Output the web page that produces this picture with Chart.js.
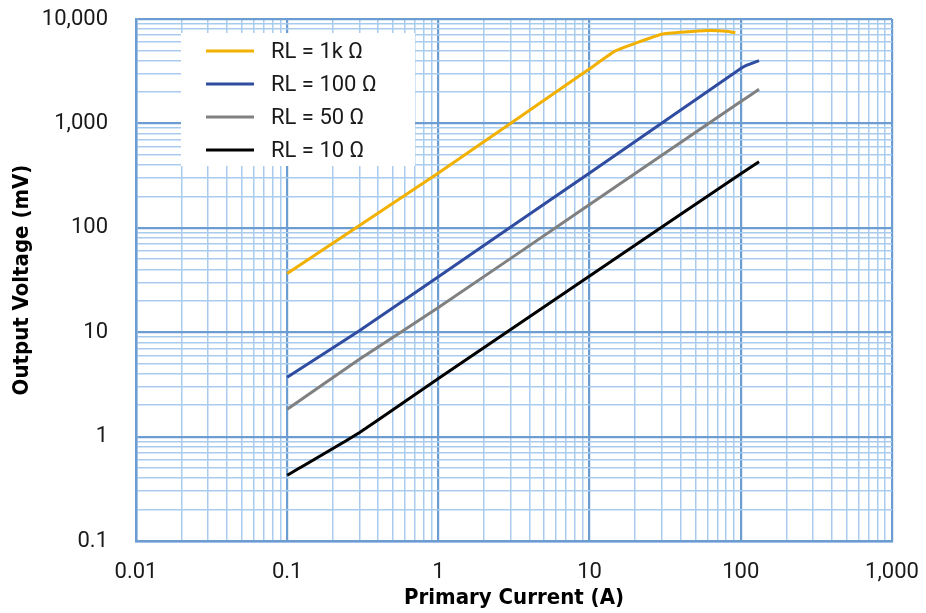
<!DOCTYPE html>
<html>
<head>
<meta charset="utf-8">
<script src="https://cdn.jsdelivr.net/npm/chart.js@4.4.1/dist/chart.umd.min.js"></script>
<style>
  html, body { margin: 0; padding: 0; background: #fff; }
</style>
</head>
<body>
<canvas id="myChart" width="926" height="613"></canvas>
<script>
// data (log-log)
const seriesNames = ["RL = 1k \u03a9", "RL = 100 \u03a9", "RL = 50 \u03a9", "RL = 10 \u03a9"];
const seriesColors = ["#f2b000", "#2f4ca0", "#808080", "#000000"];

const current1k = [0.1, 1, 10, 14.8, 30, 60, 80, 92];
const volts1k = [36.4, 335, 3330, 4940, 7150, 7750, 7650, 7400];

const current100 = [0.1, 0.3, 1, 10, 100, 108, 132];
const volts100 = [3.7, 10.3, 34, 335, 3350, 3580, 4000];

const current50 = [0.1, 0.3, 1, 10, 100, 132];
const volts50 = [1.83, 5.5, 17.2, 167, 1620, 2120];

const current10 = [0.1, 0.3, 1, 10, 100, 132];
const volts10 = [0.426, 1.09, 3.6, 34.5, 330, 430];

const xDecades = [0.01, 0.1, 1, 10, 100, 1000];
const yDecades = [0.1, 1, 10, 100, 1000, 10000];
const minorSteps = [2, 3, 4, 5, 6, 7, 8, 9];

const MAJOR = "#6b9dd3";
const MINOR = "#a8cbee";

const toPoints = (xs, ys) => xs.map((x, i) => ({ x: x, y: ys[i] }));
const isMajor = v => Math.abs(Math.log10(v) - Math.round(Math.log10(v))) < 1e-6;
const fmt = v => Number(v.toPrecision(6)).toLocaleString("en-US", { maximumFractionDigits: 3 });

// full set of gridline values: decades plus 2..9 inside each
function gridValues(decades) {
  const out = [];
  decades.forEach((d, i) => {
    out.push(d);
    if (i < decades.length - 1) minorSteps.forEach(m => out.push(Number((d * m).toPrecision(6))));
  });
  return out;
}

const allSeries = [
  toPoints(current1k, volts1k),
  toPoints(current100, volts100),
  toPoints(current50, volts50),
  toPoints(current10, volts10)
];

// legend box sitting inside the plot, above the grid, below the lines
const insideLegend = {
  id: "insideLegend",
  beforeDatasetsDraw(chart) {
    const { ctx, chartArea } = chart;
    const x0 = chartArea.left + 45, y0 = chartArea.top + 14;
    ctx.save();
    ctx.fillStyle = "#fff";
    ctx.fillRect(x0, y0, 234, 133);
    ctx.font = "22px Roboto";
    ctx.textBaseline = "middle";
    chart.data.datasets.forEach((ds, i) => {
      const y = y0 + 18 + i * 33;
      ctx.strokeStyle = ds.borderColor;
      ctx.lineWidth = 3;
      ctx.beginPath();
      ctx.moveTo(x0 + 25, y);
      ctx.lineTo(x0 + 73, y);
      ctx.stroke();
      ctx.fillStyle = "#1a1a1a";
      ctx.fillText(ds.label, x0 + 90, y + 1);
    });
    ctx.restore();
  }
};

const gridOpts = {
  color: c => (c.tick && isMajor(c.tick.value) ? MAJOR : MINOR),
  lineWidth: c => (c.tick && isMajor(c.tick.value) ? 2.2 : 1.5),
  drawTicks: false
};

const titleFont = { family: "'Liberation Sans Narrow', 'DejaVu Sans Condensed', sans-serif", size: 22, weight: "bold" };

new Chart(document.getElementById("myChart").getContext("2d"), {
  type: "line",
  data: {
    datasets: allSeries.map((pts, i) => ({
      label: seriesNames[i],
      data: pts,
      borderColor: seriesColors[i],
      backgroundColor: seriesColors[i],
      borderWidth: 3,
      pointRadius: 0,
      tension: 0.1,
      fill: false
    }))
  },
  options: {
    responsive: false,
    animation: false,
    layout: { padding: { left: 0, right: 34, top: 19, bottom: 0 } },
    plugins: { legend: { display: false }, tooltip: { enabled: false } },
    scales: {
      x: {
        type: "logarithmic",
        min: 0.01,
        max: 1000,
        afterBuildTicks: s => { s.ticks = gridValues(xDecades).map(v => ({ value: v })); },
        afterFit: s => { s.height = 72; s.paddingLeft = 0; s.paddingRight = 0; },
        grid: gridOpts,
        border: { color: MAJOR, width: 2.5 },
        ticks: {
          autoSkip: false,
          maxRotation: 0,
          padding: 18,
          color: "#1a1a1a",
          font: { family: "Roboto", size: 22 },
          callback: v => (isMajor(v) ? fmt(v) : "")
        },
        title: {
          display: true,
          text: "Primary Current (A)",
          color: "#000",
          font: titleFont,
          padding: { top: 0, bottom: 2 }
        }
      },
      y: {
        type: "logarithmic",
        min: 0.1,
        max: 10000,
        afterBuildTicks: s => { s.ticks = gridValues(yDecades).map(v => ({ value: v })); },
        afterFit: s => { s.width = 136; s.paddingTop = 0; s.paddingBottom = 0; },
        grid: gridOpts,
        border: { color: MAJOR, width: 2.5 },
        ticks: {
          autoSkip: false,
          padding: 28,
          color: "#1a1a1a",
          font: { family: "Roboto", size: 22 },
          callback: v => (isMajor(v) ? fmt(v) : "")
        },
        title: {
          display: true,
          text: "Output Voltage (mV)",
          color: "#000",
          font: titleFont,
          padding: { top: 9, bottom: 0 }
        }
      }
    }
  },
  plugins: [insideLegend]
});
</script>
</body>
</html>
